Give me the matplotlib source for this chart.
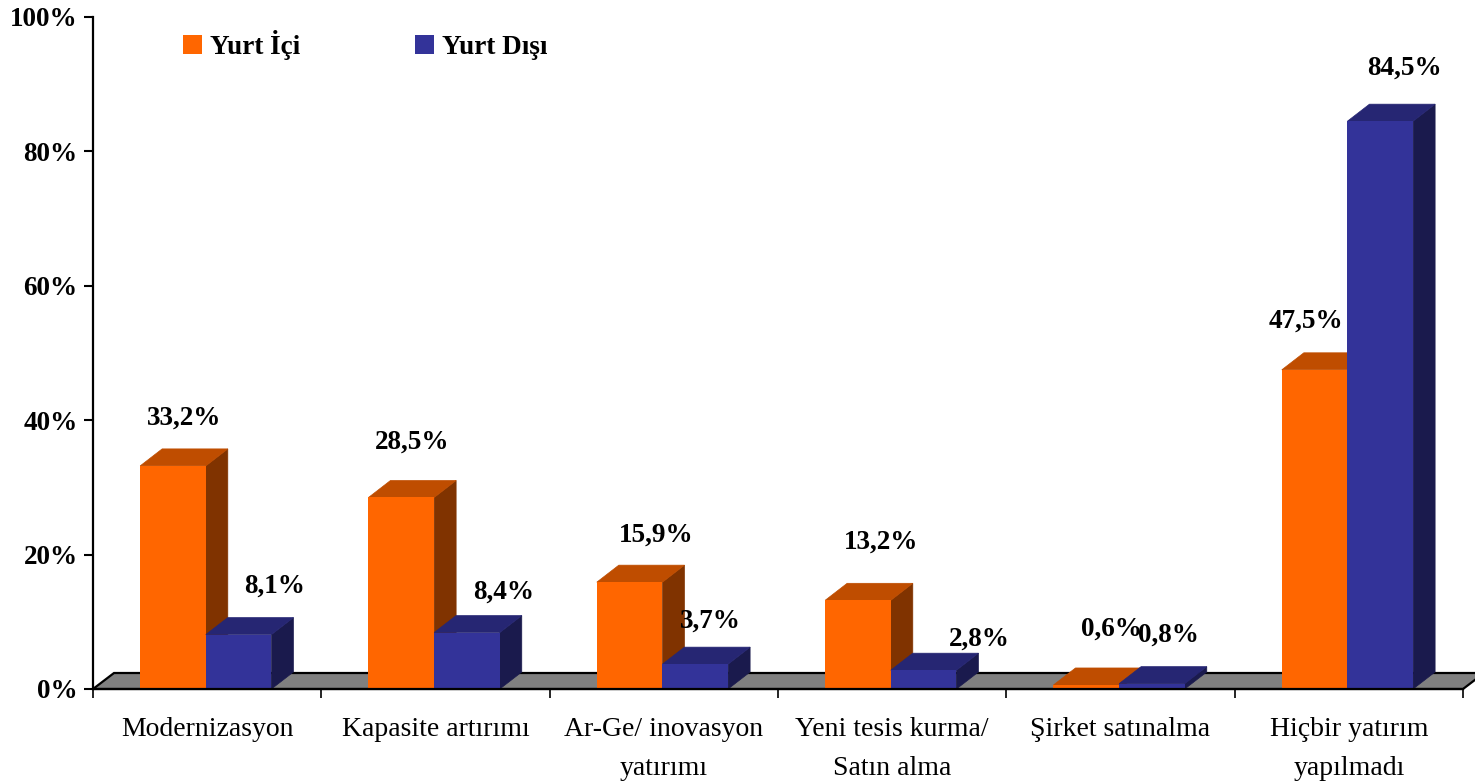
import matplotlib
matplotlib.use("Agg")
import matplotlib.pyplot as plt
from matplotlib.patches import Patch, Polygon
import numpy as np

categories = ["Modernizasyon", "Kapasite artırımı", "Ar-Ge/ inovasyon\nyatırımı",
              "Yeni tesis kurma/\nSatın alma", "Şirket satınalma", "Hiçbir yatırım\nyapılmadı"]
yurt_ici = [33.2, 28.5, 15.9, 13.2, 0.6, 47.5]
yurt_disi = [8.1, 8.4, 3.7, 2.8, 0.8, 84.5]
y_ticks = [0, 20, 40, 60, 80, 100]

# layout (pixels)
W, H = 1475, 781
AX_L, AX_R, AX_T, AX_B = 93, 1463, 17, 689
DEPTH_X_PX, DEPTH_Y_PX = 22, 17
ici_label_offset = [(11, 48), (11, 55), (27, 47), (23, 58), (25, 56), (-9, 49)]
disi_label_offset = [(36, 48), (37, 40), (15, 43), (56, 31), (16, 48), (24, 53)]

plt.rcParams["font.family"] = ["Liberation Serif", "DejaVu Serif"]
fig = plt.figure(figsize=(W / 100, H / 100), dpi=100, facecolor="white")
ax = fig.add_axes([AX_L / W, 1 - AX_B / H, (AX_R - AX_L) / W, (AX_B - AX_T) / H])
ax.set_xlim(0, 6)
ax.set_ylim(0, 100)

dx = DEPTH_X_PX * 6 / (AX_R - AX_L)
dy = DEPTH_Y_PX * 100 / (AX_B - AX_T)
fdx, fdy = 21 * 6 / (AX_R - AX_L), 16 * 100 / (AX_B - AX_T)
bw = 0.2875
shift = -0.006

# floor
ax.add_patch(Polygon([(0, 0), (fdx, fdy), (6 + fdx, fdy), (6, 0)], closed=True, facecolor="#808080",
                     edgecolor="black", linewidth=1.6, clip_on=False, zorder=1))


def bar3d(x, v, front, side, top, z):
    ax.add_patch(Polygon([(x + bw, 0), (x + bw + dx, dy), (x + bw + dx, v + dy), (x + bw, v)],
                         closed=True, facecolor=side, edgecolor=side, linewidth=0.5, zorder=z, clip_on=False))
    ax.add_patch(Polygon([(x, v), (x + dx, v + dy), (x + bw + dx, v + dy), (x + bw, v)],
                         closed=True, facecolor=top, edgecolor=top, linewidth=0.5, zorder=z, clip_on=False))
    ax.bar(x, v, width=bw, align="edge", color=front, linewidth=0, zorder=z + 0.1)


for i, (a, b) in enumerate(zip(yurt_ici, yurt_disi)):
    z = 2 + i
    x0 = i + 0.5 + shift - bw
    bar3d(x0, a, "#FF6600", "#803300", "#BF4D00", z)
    bar3d(x0 + bw, b, "#333399", "#1A1A4D", "#262673", z + 0.3)
    for x, v, off in ((x0, a, ici_label_offset[i]), (x0 + bw, b, disi_label_offset[i])):
        ax.annotate(f"{v:.1f}%".replace(".", ","), (x + bw / 2, v), xytext=off, textcoords="offset pixels",
                    ha="center", va="center", fontsize=19.5, fontweight="bold", color="black", zorder=20,
                    annotation_clip=False)

for s in ("top", "right"):
    ax.spines[s].set_visible(False)
for s in ("left", "bottom"):
    ax.spines[s].set_linewidth(1.6)
    ax.spines[s].set_zorder(15)

ax.set_yticks(y_ticks)
ax.set_yticklabels([f"{t}%" for t in y_ticks], fontsize=19.5, fontweight="bold")
ax.tick_params(axis="y", length=6.5, width=1.5, pad=4.5)
ax.set_xticks(range(7))
ax.set_xticklabels([])
ax.tick_params(axis="x", which="major", length=6.5, width=1.2)
ax.set_xticks(np.arange(6) + 0.5, minor=True)
ax.set_xticklabels(categories, minor=True, fontsize=20, linespacing=1.74)
ax.tick_params(axis="x", which="minor", length=0, pad=20)

ax.legend(handles=[Patch(facecolor="#FF6600", label="Yurt İçi"), Patch(facecolor="#333399", label="Yurt Dışı")],
          ncol=2, frameon=False, prop={"size": 19.5, "weight": "bold"},
          loc="center left", bbox_to_anchor=((183 - AX_L) / (AX_R - AX_L), 1 - (45 - AX_T) / (AX_B - AX_T)),
          borderpad=0, borderaxespad=0, handlelength=0.7, handleheight=0.7, handletextpad=0.3, columnspacing=4.25)

fig.savefig("out.png", dpi=100)
